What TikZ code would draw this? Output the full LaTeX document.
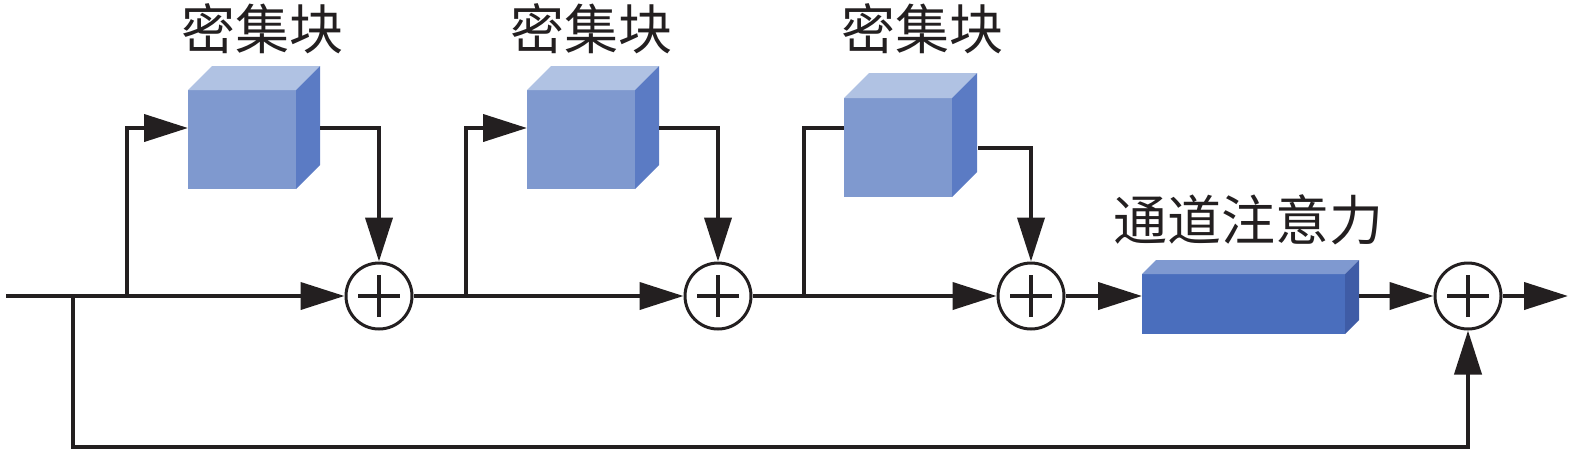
\documentclass[tikz,border=0pt]{standalone}
\usepackage{fontspec}
\newfontfamily\cjk{Noto Sans CJK SC}
\usetikzlibrary{arrows.meta}
\definecolor{cubefront}{HTML}{7F99CF}
\definecolor{cubetop}{HTML}{B0C2E3}
\definecolor{cubeside}{HTML}{5B7BC4}
\definecolor{attfront}{HTML}{4A6EBD}
\definecolor{atttop}{HTML}{7F99D0}
\definecolor{attside}{HTML}{3F5CA6}
\definecolor{ink}{HTML}{231F20}
\begin{document}
\begin{tikzpicture}[x=1pt,y=-1pt,
 wire/.style={draw=ink,line width=4pt},
 arr/.style={wire,-{Triangle[length=44pt,width=27pt]}},
 sumnode/.style={circle,draw=ink,line width=3pt,minimum size=66pt,inner sep=0pt,
   path picture={\draw[ink,line width=3.5pt] (path picture bounding box.center) +(-21pt,0pt) -- +(21pt,0pt)
     (path picture bounding box.center) +(0pt,-21pt) -- +(0pt,21pt);}},
 front/.style={inner sep=0pt,outer sep=0pt,anchor=north west,minimum width=108pt,minimum height=99pt},
 lab/.style={font=\cjk\fontsize{54}{64}\selectfont,text=ink,inner sep=0pt}
]
\useasboundingbox (0,0) rectangle (1575,451);

% sum nodes
\node[sumnode] (p1) at (379,296) {};
\node[sumnode] (p2) at (718,296) {};
\node[sumnode] (p3) at (1031,296) {};
\node[sumnode] (p4) at (1468,296) {};

% cubes
\node[front,fill=cubefront] (c1) at (188,90) {};
\fill[cubetop] (c1.north west) -- ++(24,-24) -- ++(108,0) -- (c1.north east) -- cycle;
\fill[cubeside] (c1.north east) -- ++(24,-24) -- ++(0,99) -- (c1.south east) -- cycle;

\node[front,fill=cubefront] (c2) at (527,90) {};
\fill[cubetop] (c2.north west) -- ++(24,-24) -- ++(108,0) -- (c2.north east) -- cycle;
\fill[cubeside] (c2.north east) -- ++(24,-24) -- ++(0,99) -- (c2.south east) -- cycle;

\node[front,fill=cubefront] (c3) at (844,98) {};
\fill[cubetop] (c3.north west) -- ++(25,-25) -- ++(108,0) -- (c3.north east) -- cycle;
\fill[cubeside] (c3.north east) -- ++(25,-25) -- ++(0,99) -- (c3.south east) -- cycle;

% attention block
\node[inner sep=0pt,outer sep=0pt,anchor=north west,minimum width=203pt,minimum height=60pt,fill=attfront] (att) at (1142,274) {};
\fill[atttop] (att.north west) -- ++(14,-14) -- ++(203,0) -- (att.north east) -- cycle;
\fill[attside] (att.north east) -- ++(14,-14) -- ++(0,60) -- (att.south east) -- cycle;

% labels
\node[lab] (l1) at (262,29) {密集块};
\node[lab] (l2) at (591,29) {密集块};
\node[lab] (l3) at (922,29) {密集块};
\node[lab] (l4) at (1248,220) {通道注意力};

% coordinates
\coordinate (in) at (6,296);
\coordinate (b0) at (73,296);
\coordinate (bb) at (73,447);
\coordinate (b1) at (127,296);
\coordinate (b2) at (466,296);
\coordinate (b3) at (804,296);
\coordinate (o1) at (320,128);
\coordinate (o2) at (659,128);
\coordinate (o3) at (978,148);
\coordinate (ao) at (1359,296);
\coordinate (out) at (1568,296);

% main line
\draw[arr] (in) -- (p1);
\draw[arr] (p1) -- (p2);
\draw[arr] (p2) -- (p3);
\draw[arr] (p3) -- (att.west |- p3.east);
\draw[arr] (ao) -- (p4);
\draw[arr] (p4) -- (out);

% branches
\draw[arr] (b1) |- (c1.west |- 0,128);
\draw[arr] (o1) -| (p1);
\draw[arr] (b2) |- (c2.west |- 0,128);
\draw[arr] (o2) -| (p2);
\draw[wire] (b3) |- (c3.west |- 0,128);
\draw[arr] (o3) -| (p3);

% global skip
\draw[arr] (b0) -- (bb) -| (p4);
\end{tikzpicture}
\end{document}
